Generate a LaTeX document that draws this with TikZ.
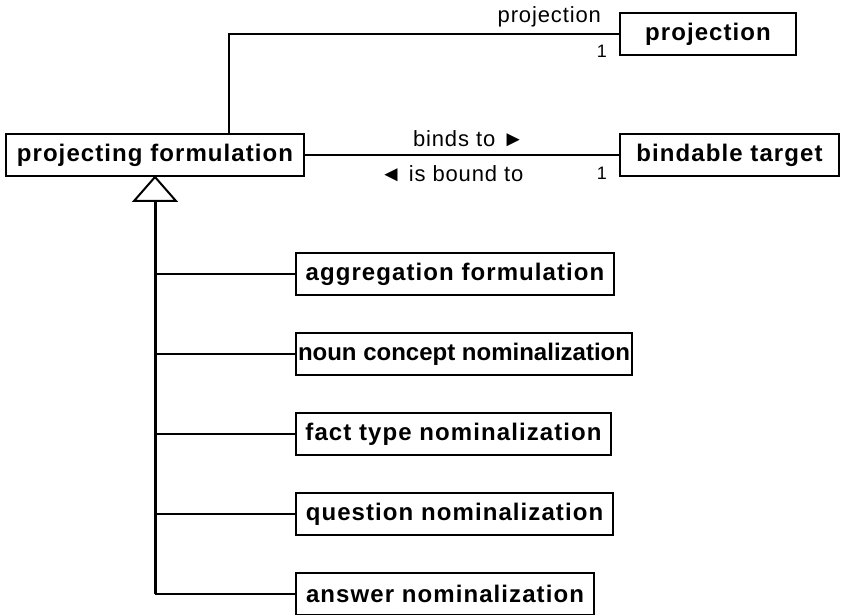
\documentclass[tikz,border=0pt]{standalone}
\usepackage{fontspec}
\setmainfont{Liberation Sans}
\newfontfamily\clsfont[LetterSpace=4.5]{Liberation Sans}
\newfontfamily\lblfont[LetterSpace=4]{Liberation Sans}
\begin{document}
\begin{tikzpicture}[x=1pt,y=-1pt,line width=2pt,
		cls/.style={draw,anchor=west,minimum height=42pt,inner xsep=2pt,font=\clsfont\bfseries\fontsize{24}{28}\selectfont},
		lbl/.style={inner sep=0pt,font=\lblfont\fontsize{22}{26}\selectfont},
		mult/.style={inner sep=0pt,font=\fontsize{18}{21}\selectfont}]
				\useasboundingbox (0,0) rectangle (847,615);
				\node[cls,minimum width=298pt] (pf) at (5,155) {projecting formulation};
				\node[cls,minimum width=176pt] (proj) at (619,34) {projection};
				\node[cls,minimum width=219pt] (bt) at (619,155) {bindable target};
				\node[cls,minimum width=318pt] (agg) at (295,274) {aggregation formulation};
				\node[cls,minimum width=334pt] (noun) at (295,354) {\addfontfeatures{LetterSpace=0}noun concept nominalization};
				\node[cls,minimum width=315pt] (fact) at (295,434) {fact type nominalization};
				\node[cls,minimum width=317pt] (quest) at (295,514) {question nominalization};
				\node[cls,minimum width=298pt] (ans) at (295,594) {answer nominalization};
				\coordinate (pk) at (229,0);
				\draw (pk |- pf.north) -- (pk |- proj.west) -- (proj.west);
				\node[lbl,anchor=base east] (projrole) at (602,23) {projection};
				\node[mult,anchor=base east] (projmult) at (608,58) {1};
				\draw (pf.east) -- (bt.west);
				\node[lbl,anchor=base west] (binds) at (412,147) {binds to ►};
				\node[lbl,anchor=base west] (bound) at (379,182) {◄ is bound to};
				\node[mult,anchor=base east] (btmult) at (608,180) {1};
				\draw (pf.south) -- ++(-21,24) -- ++(42,0) -- cycle;
				\path (pf.south) ++(0,24) coordinate (tb);
				\draw[line width=3pt] (tb) -- (tb |- ans.west);
				\foreach \n in {agg,noun,fact,quest,ans}
					\draw (tb |- \n.west) -- (\n.west);
			\end{tikzpicture}
\end{document}
